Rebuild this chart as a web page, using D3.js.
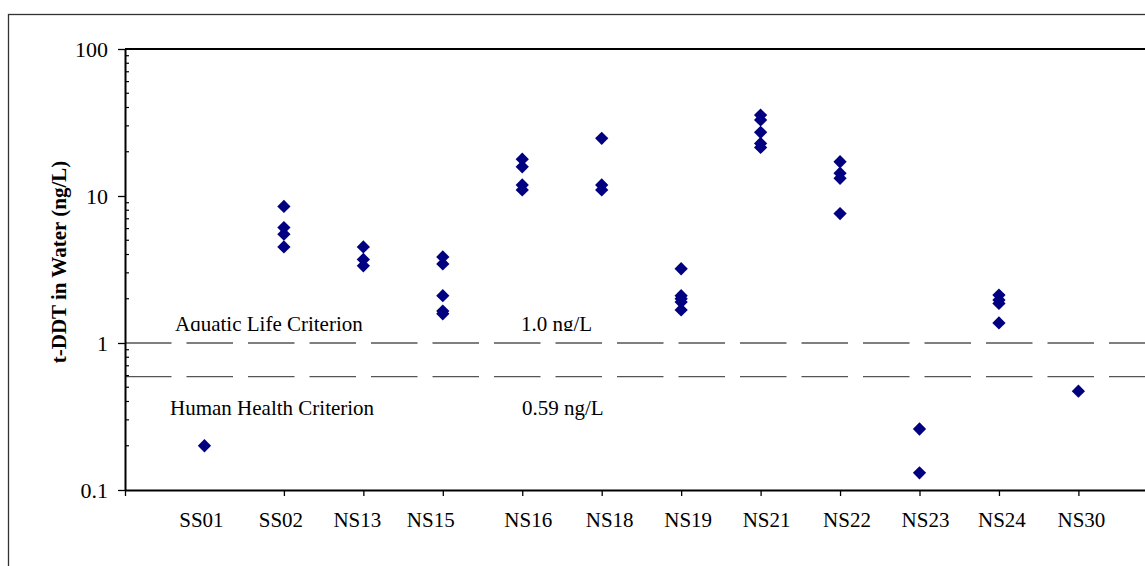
<!DOCTYPE html>
<html>
<head>
<meta charset="utf-8">
<script src="https://cdn.jsdelivr.net/npm/d3@7/dist/d3.min.js"></script>
<style>
  html, body { margin: 0; padding: 0; background: #fff; }
  svg { display: block; }
  text { font-family: "Times New Roman", "Liberation Serif", "DejaVu Serif", serif; fill: #000; }
</style>
</head>
<body>
<svg id="chart" width="1145" height="566"></svg>
<script>
// ---- data ----
const stations = ["SS01","SS02","NS13","NS15","NS16","NS18","NS19","NS21","NS22","NS23","NS24","NS30"];
const ss01 = [0.2];
const ss02 = [8.5, 6.1, 5.5, 4.5];
const ns13 = [4.5, 3.7, 3.35];
const ns15 = [3.85, 3.45, 2.1, 1.65, 1.58];
const ns16 = [17.8, 15.8, 11.9, 11.0];
const ns18 = [24.7, 11.9, 11.0];
const ns19 = [3.2, 2.1, 2.0, 1.9, 1.68];
const ns21 = [35.5, 32.9, 27.1, 22.8, 21.4];
const ns22 = [17.1, 14.3, 13.2, 7.6];
const ns23 = [0.26, 0.131];
const ns24 = [2.12, 1.96, 1.86, 1.37];
const ns30 = [0.47];
const seriesValues = [ss01, ss02, ns13, ns15, ns16, ns18, ns19, ns21, ns22, ns23, ns24, ns30];
const yTickValues = [0.1, 1, 10, 100];
const yTickLabels = ["0.1", "1", "10", "100"];
const aquaticCriterion = 1.0;
const healthCriterion = 0.59;
const criterionText = ["Aquatic Life Criterion", "1.0 ng/L", "Human Health Criterion", "0.59 ng/L"];
const yTitle = "t-DDT in Water (ng/L)";

// ---- layout (not data) ----
const labelShiftX = [-3, -3, -6, -12, 6, 8, 7, 6, 7, 6, 3, 3];

const svg = d3.select("#chart");
const plotLeft = 125, plotTop = 49, plotBottom = 490, step = 79.45;

const x = d3.scaleLinear().domain([0, 13]).range([plotLeft, plotLeft + step * 13]);
const y = d3.scaleLog().domain([0.1, 100]).range([plotBottom, plotTop]);

// outer border
svg.append("rect").attr("x", 8.5).attr("y", 14.5).attr("width", 1160).attr("height", 600)
  .attr("fill", "none").attr("stroke", "#333").attr("stroke-width", 1.3);

// plot top border
svg.append("line").attr("x1", plotLeft).attr("x2", x(13)).attr("y1", plotTop).attr("y2", plotTop)
  .attr("stroke", "#000").attr("stroke-width", 2);

// criterion dashed lines
[aquaticCriterion, healthCriterion].forEach(v => {
  svg.append("line").attr("x1", plotLeft).attr("x2", x(13)).attr("y1", y(v)).attr("y2", y(v))
    .attr("stroke", "#555").attr("stroke-width", 1.3).attr("stroke-dasharray", "46.5,15");
});

// y axis
const yAxis = d3.axisLeft(y).tickValues(yTickValues)
  .tickFormat((d, i) => yTickLabels[i]).tickSize(7).tickSizeOuter(0).tickPadding(10);
const gy = svg.append("g").attr("transform", `translate(${plotLeft},0)`).call(yAxis);
gy.select(".domain").attr("stroke", "#000").attr("stroke-width", 2);
gy.selectAll(".tick line").attr("stroke", "#000").attr("stroke-width", 1.3);
gy.selectAll(".tick text").style("font-size", "22px").attr("dy", "0.34em")
  .style("font-family", "'Times New Roman','Liberation Serif',serif");

// minor ticks (inside)
const minors = [];
[0.1, 1, 10].forEach(dec => { for (let k = 2; k <= 9; k++) minors.push(dec * k); });
svg.append("g").selectAll("line").data(minors).join("line")
  .attr("x1", plotLeft).attr("x2", plotLeft + 4).attr("y1", d => y(d)).attr("y2", d => y(d))
  .attr("stroke", "#000").attr("stroke-width", 1.2);

// x axis
const xTicks = d3.range(0, 13).filter(i => i !== 1);
const xAxis = d3.axisBottom(x).tickValues(xTicks).tickFormat("").tickSize(6).tickSizeOuter(0);
const gx = svg.append("g").attr("transform", `translate(0,${plotBottom})`).call(xAxis);
gx.select(".domain").attr("stroke", "#000").attr("stroke-width", 2);
gx.selectAll(".tick line").attr("stroke", "#000").attr("stroke-width", 1.3);

// x labels
svg.append("g").selectAll("text").data(stations).join("text")
  .attr("x", (d, i) => x(i + 1) + labelShiftX[i]).attr("y", 527)
  .attr("text-anchor", "middle").style("font-size", "21px").text(d => d);

// y title
svg.append("text").attr("transform", "translate(66,262) rotate(-90)")
  .attr("text-anchor", "middle").style("font-size", "21px").style("font-weight", "bold")
  .text(yTitle);

// criterion labels
const defs = svg.append("defs");
defs.append("clipPath").attr("id", "clipAq").append("rect")
  .attr("x", 0).attr("y", 0).attr("width", 1145).attr("height", 331);
const aq = svg.append("g").attr("clip-path", "url(#clipAq)");
aq.append("text").attr("x", 175).attr("y", y(aquaticCriterion) - 12).style("font-size", "21px").text(criterionText[0]);
aq.append("text").attr("x", 521).attr("y", y(aquaticCriterion) - 12).style("font-size", "21px").text(criterionText[1]);
svg.append("text").attr("x", 170).attr("y", y(healthCriterion) + 38).style("font-size", "21px").text(criterionText[2]);
svg.append("text").attr("x", 522).attr("y", y(healthCriterion) + 38).style("font-size", "21px").text(criterionText[3]);

// points
const pts = [];
seriesValues.forEach((vals, i) => vals.forEach(v => pts.push({ i: i + 1, v })));
const sym = d3.symbol().type(d3.symbolSquare).size(88);
svg.append("g").selectAll("path").data(pts).join("path")
  .attr("d", sym)
  .attr("transform", d => `translate(${x(d.i)},${y(d.v)}) rotate(45)`)
  .attr("fill", "#000080");
</script>
</body>
</html>
